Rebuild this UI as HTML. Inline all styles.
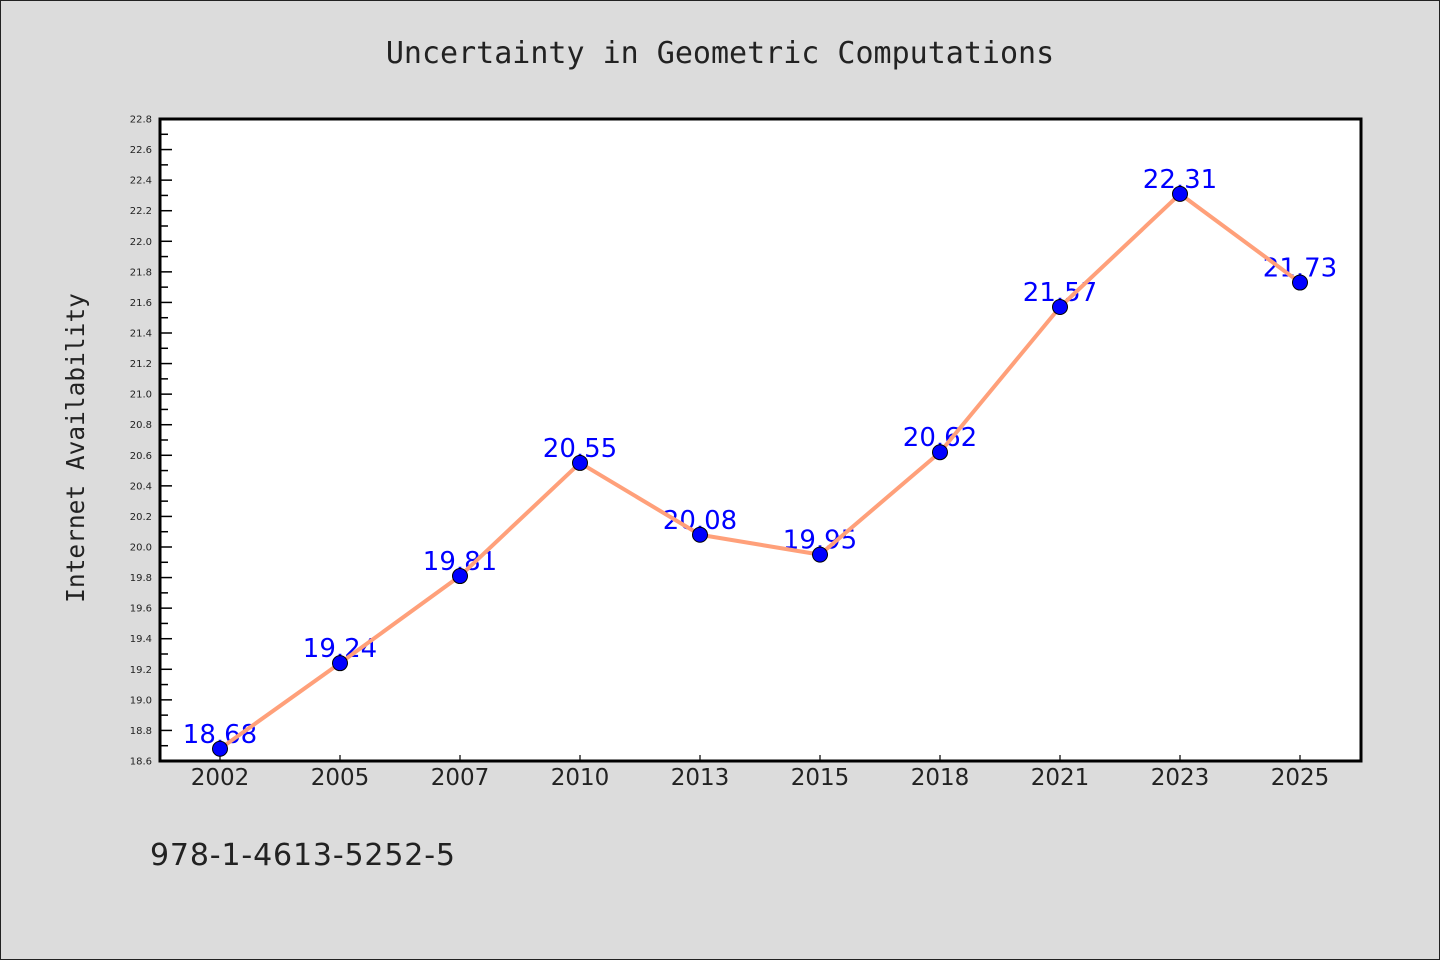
<!DOCTYPE html>
<html><head><meta charset="utf-8"><style>
body{margin:0;background:#dcdcdc}
svg{display:block;font-family:"DejaVu Sans","Liberation Sans",sans-serif}
</style></head><body>
<svg id="chart" width="1440" height="960" viewBox="0 0 1440 960">
<rect x="0.5" y="0.5" width="1439" height="959" fill="#dcdcdc" stroke="#222"/>
<text x="720" y="63" text-anchor="middle" font-size="30" fill="#222" font-family="'DejaVu Sans Mono','Liberation Mono',monospace">Uncertainty in Geometric Computations</text>
<rect x="160" y="119" width="1201" height="642" fill="#fff"/>
<g id="yticks"></g>
<g id="xticks"></g>
<g id="labels"></g>
<g id="series"></g>
<rect x="160" y="119" width="1201" height="642" fill="none" stroke="#000" stroke-width="3"/>
<text transform="translate(84,448) rotate(-90)" text-anchor="middle" font-size="24.5" fill="#222" font-family="'DejaVu Sans Mono','Liberation Mono',monospace">Internet Availability</text>
<text x="150" y="865" font-size="30" fill="#222" textLength="305">978-1-4613-5252-5</text>
</svg>
<script>
const categories=["2002","2005","2007","2010","2013","2015","2018","2021","2023","2025"];
const values=[18.68,19.24,19.81,20.55,20.08,19.95,20.62,21.57,22.31,21.73];
const valueLabels=["18.68","19.24","19.81","20.55","20.08","19.95","20.62","21.57","22.31","21.73"];
const yTickLabels=["18.6","18.8","19.0","19.2","19.4","19.6","19.8","20.0","20.2","20.4","20.6","20.8","21.0","21.2","21.4","21.6","21.8","22.0","22.2","22.4","22.6","22.8"];
const NS="http://www.w3.org/2000/svg";
const yMin=18.6,yMax=22.8,plotTop=119,plotBot=761;
const yScale=v=>plotBot-(v-yMin)/(yMax-yMin)*(plotBot-plotTop);
const xScale=i=>220+i*120;
function mk(t,a,p){const e=document.createElementNS(NS,t);for(const k in a)e.setAttribute(k,a[k]);p.appendChild(e);return e;}
const yt=document.getElementById('yticks');
yTickLabels.forEach(l=>{const v=parseFloat(l),yy=yScale(v);
 const t=mk('line',{x1:160,x2:172,y1:yy,y2:yy,stroke:'#000','stroke-width':1.5},yt);
 
 
 const tx=mk('text',{x:152,y:yy+3.5,'text-anchor':'end','font-size':10,fill:'#222'},yt);
 tx.textContent=l;
 
 
 if(v<yMax-0.01){const m=yScale(v+0.1);
  const mt=mk('line',{x1:160,x2:168,y1:m,y2:m,stroke:'#000','stroke-width':1.5},yt);
  
  }
});
const xt=document.getElementById('xticks');
categories.forEach((c,i)=>{
 const t=mk('line',{x1:xScale(i),x2:xScale(i),y1:761,y2:755,stroke:'#000','stroke-width':1.2},xt);
 
 
 const tx=mk('text',{x:xScale(i),y:785,'text-anchor':'middle','font-size':23,fill:'#222'},xt);
 tx.textContent=c;
 
 
});
const lg=document.getElementById('labels');
values.forEach((v,i)=>{
 const tx=mk('text',{x:xScale(i),y:yScale(v)-6,'text-anchor':'middle','font-size':26,fill:'#0000ff'},lg);
 tx.textContent=valueLabels[i];
 
 
});
const sg=document.getElementById('series');
const pl=mk('polyline',{points:values.map((v,i)=>xScale(i)+','+yScale(v)).join(' '),fill:'none',stroke:'#ffa07a','stroke-width':4,'stroke-linejoin':'round'},sg);


values.forEach((v,i)=>{
 const c=mk('circle',{cx:xScale(i),cy:yScale(v),r:7.5,fill:'#0000ff',stroke:'#000','stroke-width':1},sg);
 
 
});
</script>
</body></html>
